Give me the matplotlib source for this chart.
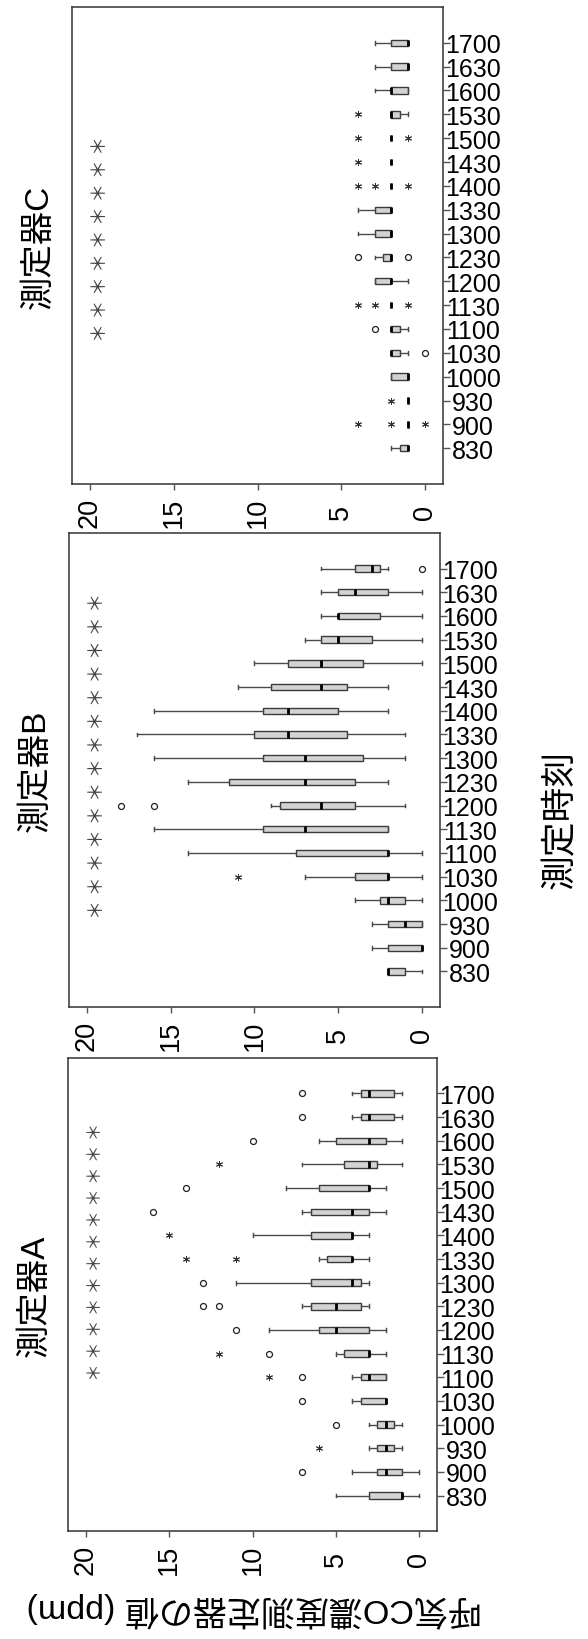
import matplotlib.pyplot as plt

plt.rcParams['font.family'] = ['Liberation Sans', 'Noto Sans CJK JP']

times = ['830', '900', '930', '1000', '1030', '1100', '1130', '1200', '1230',
         '1300', '1330', '1400', '1430', '1500', '1530', '1600', '1630', '1700']
value_ticks = [0, 5, 10, 15, 20]

# 測定器A : whisker low, Q1, median, Q3, whisker high
a_lo = [0, 0, 1, 1, 2, 2, 2, 2, 3, 3, 3, 3, 2, 2, 1, 1, 1, 1]
a_q1 = [1, 1, 1.5, 1.5, 2, 2, 3, 3, 3.5, 3.5, 4, 4, 3, 3, 2.5, 2, 1.5, 1.5]
a_med = [1, 2, 2, 2, 2, 3, 3, 5, 5, 4, 4, 4, 4, 3, 3, 3, 3, 3]
a_q3 = [3, 2.5, 2.5, 2.5, 3.5, 3.5, 4.5, 6, 6.5, 6.5, 5.5, 6.5, 6.5, 6, 4.5, 5, 3.5, 3.5]
a_hi = [5, 4, 3, 3, 4, 4, 5, 9, 7, 11, 6, 10, 7, 8, 7, 6, 4, 4]
a_out = [[], [7], [], [5], [7], [7], [9], [11], [13, 12], [13], [], [], [16], [14], [], [10], [7], [7]]
a_ext = [[], [], [6], [], [], [9], [12], [], [], [], [14, 11], [15], [], [], [12], [], [], []]

# 測定器B
b_lo = [0, 0, 0, 0, 0, 0, 2, 1, 2, 1, 1, 2, 2, 0, 0, 0, 0, 2]
b_q1 = [1, 0, 0, 1, 2, 2, 2, 4, 4, 3.5, 4.5, 5, 4.5, 3.5, 3, 2.5, 2, 2.5]
b_med = [2, 0, 1, 2, 2, 2, 7, 6, 7, 7, 8, 8, 6, 6, 5, 5, 4, 3]
b_q3 = [2, 2, 2, 2.5, 4, 7.5, 9.5, 8.5, 11.5, 9.5, 10, 9.5, 9, 8, 6, 5, 5, 4]
b_hi = [2, 3, 3, 4, 7, 14, 16, 9, 14, 16, 17, 16, 11, 10, 7, 6, 6, 6]
b_out = [[], [], [], [], [], [], [], [16, 18], [], [], [], [], [], [], [], [], [], [0]]
b_ext = [[], [], [], [], [11], [], [], [], [], [], [], [], [], [], [], [], [], []]

# 測定器C
c_lo = [1, 1, 1, 1, 1, 1, 2, 1, 2, 2, 2, 2, 2, 2, 1, 1, 1, 1]
c_q1 = [1, 1, 1, 1, 1.5, 1.5, 2, 2, 2, 2, 2, 2, 2, 2, 1.5, 1, 1, 1]
c_med = [1, 1, 1, 1, 2, 2, 2, 2, 2, 2, 2, 2, 2, 2, 2, 2, 1, 1]
c_q3 = [1.5, 1, 1, 2, 2, 2, 2, 3, 2.5, 3, 3, 2, 2, 2, 2, 2, 2, 2]
c_hi = [2, 1, 1, 2, 2, 2, 2, 3, 3, 4, 4, 2, 2, 2, 2, 3, 3, 3]
c_out = [[], [], [], [], [0], [3], [], [], [4, 1], [], [], [], [], [], [], [], [], []]
c_ext = [[], [4, 2, 0], [2], [], [], [], [4, 3, 1], [], [], [], [], [4, 3, 1], [4], [4, 1], [4], [], [], []]

W, H = 588, 1640
fig = plt.figure(figsize=(W / 100, H / 100), dpi=100)


def panel(rect, lo, q1, med, q3, hi, out, ext, title, nstar, star_row, star_size):
    l, t, r, b = rect
    ax = fig.add_axes([l / W, 1 - b / H, (r - l) / W, (b - t) / H])
    pos = list(range(1, len(times) + 1))
    stats = [dict(whislo=lo[i], q1=q1[i], med=med[i], q3=q3[i], whishi=hi[i], fliers=[])
             for i in range(len(times))]
    ax.bxp(stats, positions=pos, widths=0.27, capwidths=0.16, orientation='horizontal',
           patch_artist=True, showfliers=False,
           boxprops=dict(facecolor='#d3d3d3', edgecolor='#3a3a3a', linewidth=1.0),
           medianprops=dict(color='black', linewidth=2.0),
           whiskerprops=dict(color='#4a4a4a', linewidth=1.0),
           capprops=dict(color='#4a4a4a', linewidth=1.0))
    for i, vals in enumerate(out):
        ax.plot(vals, [pos[i]] * len(vals), linestyle='none', marker='o', ms=4.3,
                mfc='none', mec='#222222', mew=0.9)
    for i, vals in enumerate(ext):
        ax.plot(vals, [pos[i]] * len(vals), linestyle='none', marker=(6, 2, 0), ms=5,
                mec='#333333', mew=0.7)
    # significance marks, one full-width asterisk per slot
    ax.text(19.4, star_row, ' '.join(['＊'] * nstar), rotation=90, ha='center',
            va='center', fontsize=star_size, color='#444444', family=['Noto Sans CJK JP'])

    ax.set_xlim(21.08, -1.08)
    ax.set_ylim(-0.5, 19.5)
    ax.set_xticks(value_ticks)
    ax.set_xticklabels([str(v) for v in value_ticks], rotation=90, fontsize=19.5)
    for lab in ax.get_xticklabels():
        lab.set_va('center')
    ax.tick_params(axis='x', length=4.5, width=1, color='#555555', pad=15.5)
    ax.yaxis.tick_right()
    ax.set_yticks(pos)
    ax.set_yticklabels(times, fontsize=18)
    for lab in ax.get_yticklabels():
        lab.set_ha('center')
    ax.tick_params(axis='y', length=5, width=1, color='#555555', pad=16.5)
    for s in ax.spines.values():
        s.set_color('#333333')
        s.set_linewidth(1.1)
    fig.text((l - 33) / W, 1 - (t + b) / 2 / H, title, rotation=90, ha='center',
             va='center', fontsize=24)
    return ax


panel((72, 8, 443, 485), c_lo, c_q1, c_med, c_q3, c_hi, c_out, c_ext, '測定器C', 9, 9.8, 13.8)
panel((69, 534, 440, 1008), b_lo, b_q1, b_med, b_q3, b_hi, b_out, b_ext, '測定器B', 14, 10.13, 13.9)
panel((68, 1059, 437, 1532), a_lo, a_q1, a_med, a_q3, a_hi, a_out, a_ext, '測定器A', 12, 11.35, 12.9)

fig.text(560 / W, 1 - 820 / H, '測定時刻', rotation=90, ha='center', va='center', fontsize=25)
fig.text(254 / W, 1 - 1610 / H, '呼気CO濃度測定器の値 (ppm)', rotation=180, ha='center',
         va='center', fontsize=24.5)

fig.savefig('out.png', dpi=100)
